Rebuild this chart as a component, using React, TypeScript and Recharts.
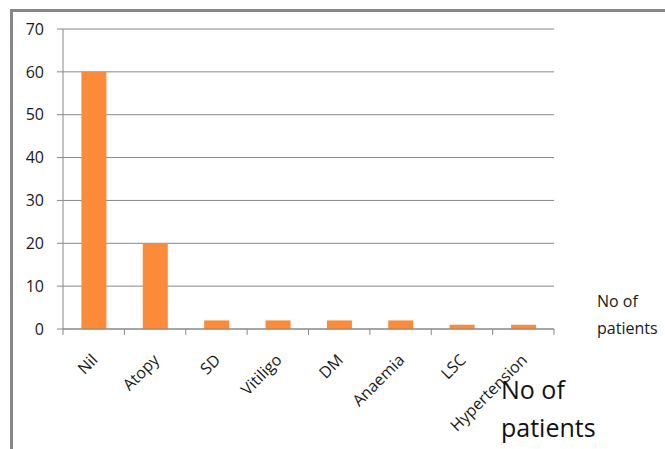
import { BarChart, Bar, XAxis, YAxis, CartesianGrid } from "recharts";

const categories = ["Nil", "Atopy", "SD", "Vitiligo", "DM", "Anaemia", "LSC", "Hypertension"];
const patients = [60, 20, 2, 2, 2, 2, 1, 1];
const yTicks = [0, 10, 20, 30, 40, 50, 60, 70];
const seriesName = "No of patients";

const data = categories.map((name, i) => ({ name, value: patients[i] }));

const FONT = "'Open Sans', sans-serif";
const GRID = "#888888";
const ORANGE = "#FB8A39";

function CategoryTick(props: any) {
  const { x, y, width, payload, index } = props;
  const half = width / categories.length / 2;
  const tx = x + 5;
  const ty = y + 32;
  return (
    <g>
      <line x1={x - half} y1={y} x2={x - half} y2={y + 6} stroke={GRID} />
      {index === categories.length - 1 && (
        <line x1={x + half} y1={y} x2={x + half} y2={y + 6} stroke={GRID} />
      )}
      <text
        x={tx}
        y={ty}
        textAnchor="end"
        fill="#1a1a1a"
        fontSize={16}
        fontFamily={FONT}
        transform={`rotate(-45, ${tx}, ${ty})`}
      >
        {payload.value}
      </text>
    </g>
  );
}

export default function App() {
  return (
    <div
      style={{
        position: "fixed",
        left: 0,
        top: 0,
        width: 665,
        height: 449,
        overflow: "hidden",
        background: "#fff",
        fontFamily: FONT,
      }}
    >
      <div
        style={{
          position: "absolute",
          left: 10,
          top: 9,
          width: 720,
          height: 500,
          border: "3px solid #868686",
          boxSizing: "border-box",
        }}
      />
      <div style={{ position: "absolute", left: 0, top: 0 }}>
        <BarChart
          width={665}
          height={449}
          data={data}
          margin={{ top: 29, right: 111, left: 0, bottom: 0 }}
          barCategoryGap="30%"
        >
          <CartesianGrid vertical={false} stroke={GRID} />
          <XAxis
            dataKey="name"
            interval={0}
            height={120}
            tickSize={0}
            tickMargin={0}
            tickLine={false}
            axisLine={{ stroke: GRID }}
            tick={<CategoryTick />}
          />
          <YAxis
            width={63}
            domain={[0, 70]}
            ticks={yTicks}
            tickSize={6}
            tickMargin={13}
            tickLine={{ stroke: GRID }}
            axisLine={{ stroke: GRID }}
            tick={{ fill: "#1a1a1a", fontSize: 16, fontFamily: FONT }}
          />
          <Bar dataKey="value" name={seriesName} fill={ORANGE} isAnimationActive={false} />
        </BarChart>
      </div>
      <div
        style={{
          position: "absolute",
          left: 597,
          top: 288,
          width: 70,
          fontSize: 16,
          lineHeight: "27px",
          color: "#1a1a1a",
        }}
      >
        No of
        <br />
        patients
      </div>
      <div
        style={{
          position: "absolute",
          left: 501,
          top: 370,
          fontSize: 25,
          lineHeight: "38px",
          color: "#111",
        }}
      >
        No of
        <br />
        patients
      </div>
    </div>
  );
}
